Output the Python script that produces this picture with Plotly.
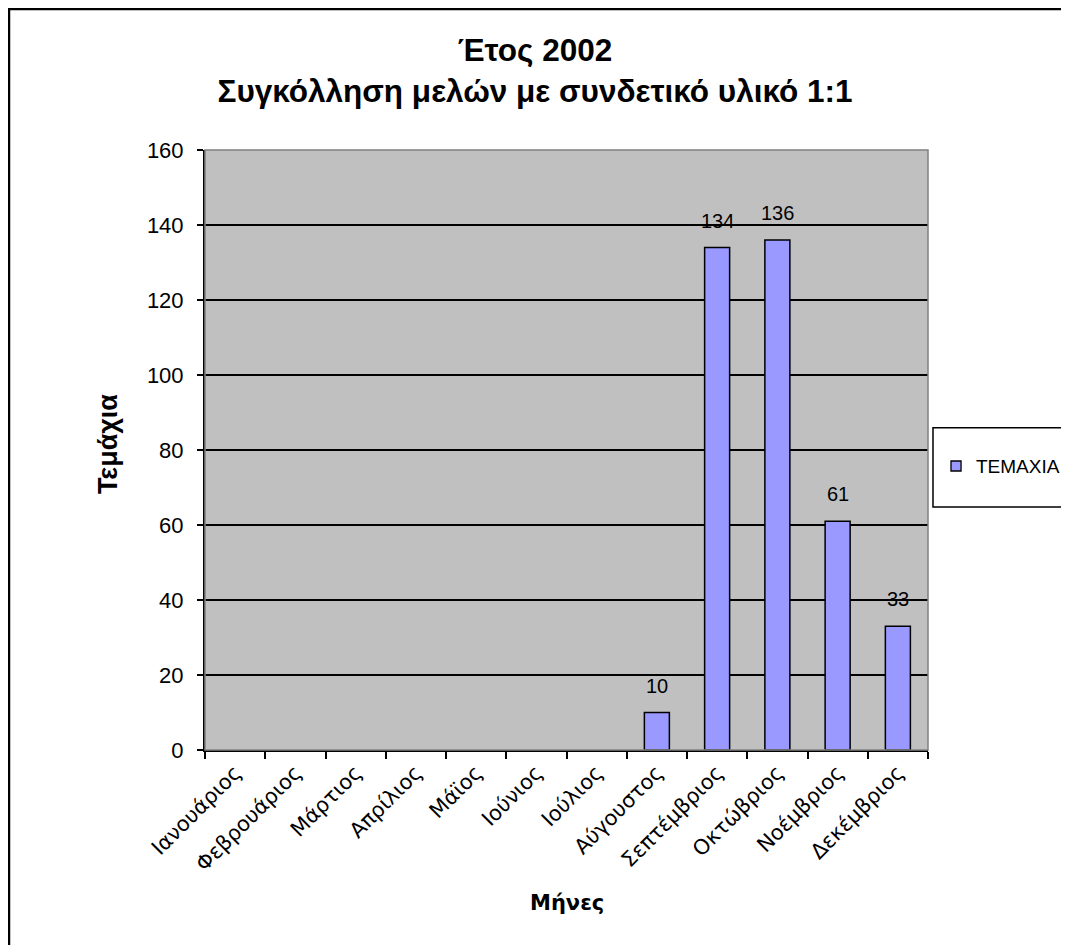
import plotly.graph_objects as go

# Data
months = ["Ιανουάριος", "Φεβρουάριος", "Μάρτιος", "Απρίλιος", "Μάϊος", "Ιούνιος",
          "Ιούλιος", "Αύγουστος", "Σεπτέμβριος", "Οκτώβριος", "Νοέμβριος", "Δεκέμβριος"]
pieces = [None, None, None, None, None, None, None, 10, 134, 136, 61, 33]
y_ticks = [0, 20, 40, 60, 80, 100, 120, 140, 160]
series_name = "TEMAXIA"

font_main = "Liberation Sans, Arial, sans-serif"
bar_color = "#9999ff"

fig = go.Figure()

fig.add_trace(go.Bar(
    x=months, y=pieces,
    name=series_name,
    marker=dict(color=bar_color, line=dict(color="black", width=1.5)),
    showlegend=False,
))

# value labels above the bars
for m, v in zip(months, pieces):
    if v is None:
        continue
    fig.add_annotation(x=m, y=v, text=str(v), showarrow=False,
                       yanchor="bottom", yshift=14,
                       font=dict(family=font_main, size=20, color="black"))

# plot area border (grey) and chart border (black)
fig.add_shape(type="rect", xref="paper", yref="paper", x0=0, y0=0, x1=1, y1=1,
              line=dict(color="#808080", width=1.5), layer="above")
fig.add_shape(type="rect", xref="paper", yref="paper",
              x0=-0.2711, x1=1.25, y0=-0.4, y1=1.235,
              line=dict(color="black", width=2.5))

# legend box drawn by hand (Excel style)
fig.add_shape(type="rect", xref="paper", yref="paper",
              x0=1.0069, x1=1.25, y0=0.405, y1=0.537,
              line=dict(color="black", width=1.5), fillcolor="white")
fig.add_shape(type="rect", xref="paper", yref="paper",
              x0=1.0318, x1=1.0457, y0=0.465, y1=0.4817,
              line=dict(color="black", width=1.3), fillcolor=bar_color)
fig.add_annotation(xref="paper", yref="paper", x=1.064, y=0.4733,
                   xanchor="left", yanchor="middle", showarrow=False,
                   text=series_name,
                   font=dict(family=font_main, size=19, color="black"))

# axis titles
fig.add_annotation(xref="paper", yref="paper", x=0.5, y=-0.255,
                   xanchor="center", yanchor="middle", showarrow=False,
                   text="<b>Μήνες</b>",
                   font=dict(family="DejaVu Sans, sans-serif", size=21, color="black"))
fig.add_annotation(xref="paper", yref="paper", x=-0.134, y=0.51,
                   xanchor="center", yanchor="middle", showarrow=False,
                   textangle=-90, text="<b>Τεμάχια</b>",
                   font=dict(family=font_main, size=27, color="black"))

fig.update_layout(
    width=1061, height=937,
    margin=dict(l=197, r=141, t=142, b=195),
    paper_bgcolor="white",
    plot_bgcolor="#c0c0c0",
    bargap=0.585,
    font=dict(family=font_main, color="black"),
    title=dict(
        text="<b>Έτος 2002<br>Συγκόλληση μελών με συνδετικό υλικό 1:1</b>",
        x=(535 - 8) / 1061, xanchor="center", xref="container",
        y=1 - 53 / 937, yanchor="middle",
        font=dict(family=font_main, size=31.5, color="black"),
    ),
    showlegend=False,
    xaxis=dict(
        showgrid=False, zeroline=False,
        showline=True, linecolor="black", linewidth=2,
        ticks="outside", tickson="boundaries", ticklen=7, tickcolor="black", tickwidth=1.5,
        tickangle=-45,
        tickfont=dict(family="DejaVu Sans, sans-serif", size=21, color="black"),
    ),
    yaxis=dict(
        range=[0, 160], tickvals=y_ticks,
        showgrid=True, gridcolor="black", gridwidth=1.5,
        zeroline=False,
        showline=True, linecolor="black", linewidth=2,
        ticks="outside", ticklen=6, tickcolor="black", tickwidth=1.5,
        ticklabelstandoff=9,
        tickfont=dict(family=font_main, size=22, color="black"),
    ),
)

fig.write_html("out.html")
